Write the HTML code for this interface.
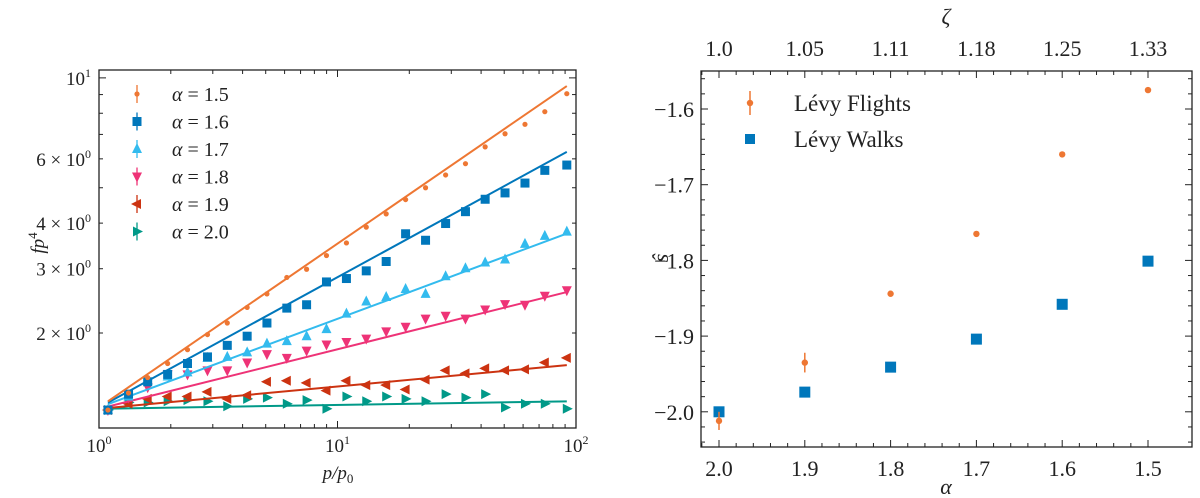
<!DOCTYPE html>
<html><head><meta charset="utf-8">
<style>
html,body{margin:0;padding:0;background:#fff;}
svg{display:block;font-family:"Liberation Serif",serif;}
</style></head>
<body>
<svg id="chart" width="1200" height="498" viewBox="0 0 1200 498" xmlns="http://www.w3.org/2000/svg"></svg>
<script>
// ---------- Left panel data ----------
const pValues = [1.09,1.33,1.60,1.94,2.35,2.85,3.45,4.18,5.06,6.13,7.42,8.99,10.9,13.2,16.0,19.3,23.4,28.4,34.4,41.6,50.4,61.1,74.0,91.5];
const seriesLabels = ["1.5","1.6","1.7","1.8","1.9","2.0"];
const fp4_a15 = [1.23,1.37,1.51,1.65,1.80,1.98,2.13,2.35,2.56,2.84,2.99,3.26,3.53,3.90,4.24,4.64,5.00,5.42,5.82,6.47,7.03,7.46,8.08,9.05];
const fp4_a16 = [1.23,1.36,1.47,1.54,1.65,1.72,1.85,1.96,2.13,2.34,2.39,2.76,2.82,2.96,3.14,3.74,3.59,3.99,4.30,4.65,4.84,5.15,5.58,5.77];
const fp4_a17 = [1.23,1.34,1.48,1.52,1.56,1.71,1.72,1.77,1.87,1.90,1.96,2.05,2.26,2.44,2.51,2.64,2.56,2.86,3.01,3.12,3.18,3.51,3.69,3.79];
const fp4_a18 = [1.23,1.33,1.42,1.54,1.54,1.58,1.58,1.66,1.75,1.71,1.79,1.86,1.89,1.93,2.02,2.08,2.19,2.23,2.19,2.32,2.40,2.39,2.53,2.62];
const fp4_a19 = [1.23,1.28,1.32,1.34,1.34,1.38,1.32,1.35,1.47,1.48,1.46,1.39,1.48,1.44,1.44,1.40,1.49,1.58,1.55,1.60,1.58,1.59,1.66,1.71];
const fp4_a20 = [1.23,1.29,1.29,1.30,1.31,1.30,1.26,1.32,1.33,1.28,1.31,1.24,1.34,1.30,1.34,1.32,1.30,1.36,1.33,1.36,1.25,1.28,1.28,1.24];
const fitAmp = [1.25,1.25,1.25,1.24,1.24,1.24];
const fitSlope = [0.449,0.357,0.243,0.163,0.061,0.0104];
const yTickVals = [10,6,4,3,2];
const yTickLabels = ["10<tspan dy='-8' font-size='12'>1</tspan>","6 × 10<tspan dy='-8' font-size='12'>0</tspan>","4 × 10<tspan dy='-8' font-size='12'>0</tspan>","3 × 10<tspan dy='-8' font-size='12'>0</tspan>","2 × 10<tspan dy='-8' font-size='12'>0</tspan>"];
const xTickVals = [1,10,100];
const xTickExp = ["0","1","2"];

// ---------- Right panel data ----------
const alphaVals = [2.0,1.9,1.8,1.7,1.6,1.5];
const zetaLabels = ["1.0","1.05","1.11","1.18","1.25","1.33"];
const flightsVals = [-2.012,-1.935,-1.844,-1.765,-1.660,-1.575];
const flightsErr = [0.012,0.013,0.004,0.003,0.002,0.002];
const walksVals = [-2.000,-1.974,-1.941,-1.904,-1.858,-1.801];
const sTicks = [-1.6,-1.7,-1.8,-1.9,-2.0];

const colors = ["#EE7733","#0077BB","#33BBEE","#EE3377","#CC3311","#009988"];
const svg = document.getElementById('chart');
const NS = "http://www.w3.org/2000/svg";
function mk(tag, attrs, parent){const e=document.createElementNS(NS,tag);for(const k in attrs)e.setAttribute(k,attrs[k]);(parent||svg).appendChild(e);return e;}

// ---------- Left axes ----------
const L = {x0:99, x1:576, y0:70, y1:428};
const lx = p => L.x0 + Math.log10(p)*238.5;
const ly = v => 333 - (Math.log10(v)-Math.log10(2))*365;
const leftG = mk('g',{});


const clip = mk('clipPath',{id:'lclip'},leftG);
mk('rect',{x:L.x0,y:L.y0,width:L.x1-L.x0,height:L.y1-L.y0},clip);

for(let d=0; d<2; d++){for(let m=1;m<=10;m++){const v=Math.pow(10,d)*m; const x=lx(v); const len=(m===1||m===10)?7:4;
  mk('line',{x1:x,y1:L.y1,x2:x,y2:L.y1-len,stroke:'#222','stroke-width':1},leftG);
  mk('line',{x1:x,y1:L.y0,x2:x,y2:L.y0+len,stroke:'#222','stroke-width':1},leftG);}}
for(let m=2;m<=10;m++){const y=ly(m); if(y<L.y0)continue; const len=(m===10)?7:4;
  mk('line',{x1:L.x0,y1:y,x2:L.x0+len,y2:y,stroke:'#222','stroke-width':1},leftG);
  mk('line',{x1:L.x1,y1:y,x2:L.x1-len,y2:y,stroke:'#222','stroke-width':1},leftG);}
xTickVals.forEach((v,i)=>{const t=mk('text',{x:lx(v),y:452,'font-size':19,'text-anchor':'middle',fill:'#222'},leftG);
  
  t.innerHTML="10<tspan dy='-8' font-size='12'>"+xTickExp[i]+"</tspan>";});
yTickVals.forEach((v,i)=>{const t=mk('text',{x:91,y:ly(v)+7,'font-size':19,'text-anchor':'end',fill:'#222'},leftG);
  
  t.innerHTML=yTickLabels[i];});
const xl=mk('text',{x:338,y:479,'font-size':19,'text-anchor':'middle','font-style':'italic',fill:'#222'},leftG);

xl.innerHTML="p/p<tspan dy='4' font-size='13' font-style='normal'>0</tspan>";
const yl=mk('text',{x:0,y:0,'font-size':19,'text-anchor':'middle','font-style':'italic',fill:'#222',transform:'translate(44,243) rotate(-90)'},leftG);

yl.innerHTML="fp<tspan dy='-7' font-size='13' font-style='normal'>4</tspan>";

function marker(g,kind,x,y,c){
  const s=5;
  if(kind===0) return mk('circle',{cx:x,cy:y,r:2.6,fill:c},g);
  if(kind===1) return mk('rect',{x:x-4.5,y:y-4.5,width:9,height:9,fill:c},g);
  let pts;
  if(kind===2) pts=[[x,y-s-1],[x-s,y+s-1],[x+s,y+s-1]];
  if(kind===3) pts=[[x,y+s+1],[x-s,y-s+1],[x+s,y-s+1]];
  if(kind===4) pts=[[x-s-1,y],[x+s-1,y-s],[x+s-1,y+s]];
  if(kind===5) pts=[[x+s+1,y],[x-s+1,y-s],[x-s+1,y+s]];
  return mk('polygon',{points:pts.map(p=>p.join(',')).join(' '),fill:c},g);
}
const allSeries=[fp4_a15,fp4_a16,fp4_a17,fp4_a18,fp4_a19,fp4_a20];
const plotG=mk('g',{'clip-path':'url(#lclip)'},leftG);
for(let s=allSeries.length-1;s>=0;s--){
  const sg=mk('g',{},plotG);
  
  
  const pa=pValues[0], pb=pValues[pValues.length-1];
  const fl=mk('line',{x1:lx(pa),y1:ly(fitAmp[s]*Math.pow(pa,fitSlope[s])),x2:lx(pb),y2:ly(fitAmp[s]*Math.pow(pb,fitSlope[s])),stroke:colors[s],'stroke-width':2},sg);
  
  
  allSeries[s].forEach((v,i)=>{const m=marker(sg,s,lx(pValues[i]),ly(v),colors[s]);
    
    });
}
mk('rect',{x:L.x0,y:L.y0,width:L.x1-L.x0,height:L.y1-L.y0,fill:'none',stroke:'#222','stroke-width':1.3},leftG);
const lg=mk('g',{},leftG);


seriesLabels.forEach((lab,i)=>{const y=94+i*27.5;
  const e=mk('g',{},lg);
  
  
  mk('line',{x1:137,y1:y-9,x2:137,y2:y+9,stroke:colors[i],'stroke-width':1.3},e);
  marker(e,i,137,y,colors[i]);
  const t=mk('text',{x:172,y:y+7,'font-size':20,fill:'#222'},e);
  t.innerHTML="<tspan font-style='italic'>α</tspan> = "+lab;});

// ---------- Right axes ----------
const R={x0:701,x1:1192,y0:71,y1:447};
const rx=a=>719+(2.0-a)*858;
const ry=v=>109+(-1.6-v)*757;
const rightG=mk('g',{});


for(let k=-1;k<=25;k++){const a=2.0-k*0.02;const x=rx(a);if(x<R.x0||x>R.x1)continue;const len=(k%5===0)?7:4;
  mk('line',{x1:x,y1:R.y1,x2:x,y2:R.y1-len,stroke:'#222','stroke-width':1},rightG);
  mk('line',{x1:x,y1:R.y0,x2:x,y2:R.y0+len,stroke:'#222','stroke-width':1},rightG);}
for(let k=-3;k<=25;k++){const v=-1.6-k*0.02;const y=ry(v);if(y<R.y0||y>R.y1)continue;const len=(k%5===0)?7:4;
  mk('line',{x1:R.x0,y1:y,x2:R.x0+len,y2:y,stroke:'#222','stroke-width':1},rightG);
  mk('line',{x1:R.x1,y1:y,x2:R.x1-len,y2:y,stroke:'#222','stroke-width':1},rightG);}
alphaVals.forEach((a,i)=>{const t=mk('text',{x:rx(a),y:476,'font-size':22,'text-anchor':'middle',fill:'#222'},rightG);
  
  t.textContent=a.toFixed(1);
  const z=mk('text',{x:rx(a),y:56,'font-size':22,'text-anchor':'middle',fill:'#222'},rightG);
  
  z.textContent=zetaLabels[i];});
sTicks.forEach(v=>{const t=mk('text',{x:694,y:ry(v)+8,'font-size':22,'text-anchor':'end',fill:'#222'},rightG);
  
  t.textContent="−"+Math.abs(v).toFixed(1);});
const ax=mk('text',{x:946,y:494,'font-size':22,'text-anchor':'middle','font-style':'italic',fill:'#222'},rightG);
ax.textContent="α";
const zt=mk('text',{x:946,y:24,'font-size':22,'text-anchor':'middle','font-style':'italic',fill:'#222'},rightG);
zt.textContent="ζ";
const st=mk('text',{x:0,y:0,'font-size':22,'text-anchor':'middle','font-style':'italic',fill:'#222',transform:'translate(668,258) rotate(-90)'},rightG);
st.textContent="ŝ";
const wg=mk('g',{},rightG);


walksVals.forEach((v,i)=>{const m=mk('rect',{x:rx(alphaVals[i])-5.5,y:ry(v)-5.5,width:11,height:11,fill:'#0077BB'},wg);
  
  });
const fg=mk('g',{},rightG);


flightsVals.forEach((v,i)=>{const x=rx(alphaVals[i]);
  const eb=mk('line',{x1:x,y1:ry(v-flightsErr[i]),x2:x,y2:ry(v+flightsErr[i]),stroke:'#EE7733','stroke-width':1.5},fg);
  
  
  const m=mk('circle',{cx:x,cy:ry(v),r:3.2,fill:'#EE7733'},fg);
  
  });
mk('rect',{x:R.x0,y:R.y0,width:R.x1-R.x0,height:R.y1-R.y0,fill:'none',stroke:'#222','stroke-width':1.3},rightG);
const rl=mk('g',{},rightG);


const e1=mk('g',{},rl);


mk('line',{x1:750,y1:91,x2:750,y2:115,stroke:'#EE7733','stroke-width':1.5},e1);
mk('circle',{cx:750,cy:103,r:3.2,fill:'#EE7733'},e1);
mk('text',{x:794,y:111,'font-size':23,fill:'#222'},e1).textContent="Lévy Flights";
const e2=mk('g',{},rl);


mk('rect',{x:745,y:134,width:10,height:10,fill:'#0077BB'},e2);
mk('text',{x:794,y:147,'font-size':23,fill:'#222'},e2).textContent="Lévy Walks";
</script>
</body></html>
